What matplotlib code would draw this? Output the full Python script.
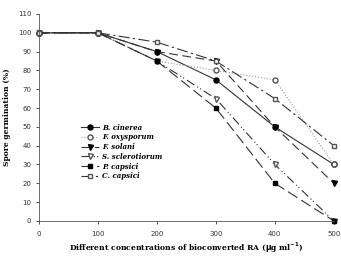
import matplotlib.pyplot as plt
import numpy as np

conc = [0, 100, 200, 300, 400, 500]
b_cinerea = [100, 100, 90, 75, 50, 30]
f_oxysporum = [100, 100, 85, 80, 75, 30]
f_solani = [100, 100, 90, 85, 50, 20]
s_sclerotiorum = [100, 100, 85, 65, 30, 0]
p_capsici = [100, 100, 85, 60, 20, 0]
c_capsici = [100, 100, 95, 85, 65, 40]

fig = plt.figure(figsize=(3.41, 2.59), dpi=100)
ax = fig.add_axes([0.114, 0.147, 0.865, 0.799])

lc = '#333333'
ms = 3.6
ax.plot(conc, b_cinerea, '-', color=lc, lw=0.8, marker='o', ms=ms, mfc='black', mec='black',
        label='B. cinerea')
ax.plot(conc, f_oxysporum, ':', color='#999999', lw=0.8, marker='o', ms=ms, mfc='white', mec='#555555',
        label='F. oxysporum')
ax.plot(conc, f_solani, color=lc, lw=0.8, dashes=(8, 4), marker='v', ms=ms, mfc='black', mec='black',
        label='F. solani')
ax.plot(conc, s_sclerotiorum, color=lc, lw=0.8, dashes=(8, 3, 1, 2, 1, 3), marker='v', ms=ms,
        mfc='white', mec='#555555', label='S. sclerotiorum')
ax.plot(conc, p_capsici, color=lc, lw=0.8, dashes=(10, 4), marker='s', ms=ms - 0.4, mfc='black',
        mec='black', label='P. capsici')
ax.plot(conc, c_capsici, color=lc, lw=0.8, dashes=(10, 3, 2, 3), marker='s', ms=ms - 0.4,
        mfc='white', mec='#555555', label='C. capsici')

ax.set_xlim(0, 500)
ax.set_ylim(0, 110)
ax.set_xticks(np.arange(0, 501, 100))
ax.set_yticks(np.arange(0, 111, 10))
ax.tick_params(labelsize=5, length=2.5, width=0.6, colors='#333333', pad=3)
ax.tick_params(axis='x', pad=5)
for s in ['top', 'right']:
    ax.spines[s].set_visible(False)
for s in ['left', 'bottom']:
    ax.spines[s].set_linewidth(0.6)
    ax.spines[s].set_color('#555555')
for ln in ax.lines:
    ln.set_clip_on(False)

ax.set_ylabel('Spore germination (%)', family='serif', fontweight='bold', fontsize=5.5, labelpad=5)
ax.set_xlabel(r'Different concentrations of bioconverted RA ($\mathbf{\mu}$g ml$^{\mathbf{-1}}$)',
              family='serif', fontweight='bold', fontsize=5.5, labelpad=2)

leg = ax.legend(loc='upper left', bbox_to_anchor=(0.12, 0.5), frameon=False, handlelength=2.6,
                labelspacing=0.25, handletextpad=0.5,
                prop={'family': 'serif', 'style': 'italic', 'weight': 'bold', 'size': 5})

fig.savefig('out.png', dpi=100)
